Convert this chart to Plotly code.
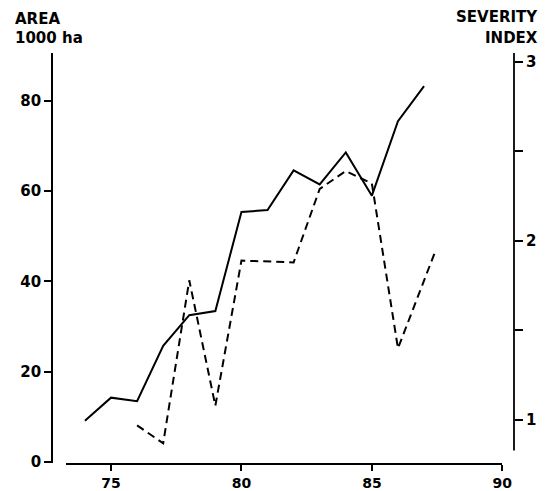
import plotly.graph_objects as go

# Area (1000 ha), left axis
area_years = [74, 75, 76, 77, 78, 79, 80, 81, 82, 83, 84, 85, 86, 87]
area_values = [9.1, 14.2, 13.4, 25.7, 32.5, 33.4, 55.4, 55.8, 64.6, 61.5, 68.6, 59.0, 75.5, 83.3]

# Severity index, right axis
sev_years = [76, 77, 78, 79, 80, 81, 82, 83, 84, 85, 86, 87.4]
sev_values = [0.97, 0.87, 1.78, 1.08, 1.89, 1.885, 1.88, 2.29, 2.39, 2.32, 1.40, 1.93]

x_ticks = [75, 80, 85, 90]
left_ticks = [0, 20, 40, 60, 80]
right_ticks = [1, 2, 3]

FONT = "DejaVu Sans"
tick_font = dict(family=FONT, size=15, color="black", weight="bold")
x_tick_font = dict(family=FONT, size=14, color="black", weight="bold")

fig = go.Figure()
fig.add_trace(go.Scatter(x=area_years, y=area_values, mode="lines",
                         line=dict(color="black", width=2), yaxis="y", showlegend=False))
fig.add_trace(go.Scatter(x=sev_years, y=sev_values, mode="lines",
                         line=dict(color="black", width=2, dash="8px,5px"), yaxis="y2", showlegend=False))

# page body has an 8px margin, so the figure is drawn 8px smaller
fig.update_layout(
    width=539, height=483,
    margin=dict(l=44, r=33, t=45, b=28, autoexpand=False),
    paper_bgcolor="white", plot_bgcolor="white",
    xaxis=dict(domain=[0.0297, 0.9747], range=[73.264, 90], anchor="y", automargin=False,
               showline=True, linecolor="black", linewidth=1.8,
               ticks="outside", ticklen=6, tickwidth=1.8, tickcolor="black",
               tickvals=x_ticks, ticktext=[str(v) for v in x_ticks],
               tickfont=x_tick_font, showgrid=False, zeroline=False),
    yaxis=dict(range=[-0.29, 90.64], anchor="free", position=0, automargin=False,
               showline=True, linecolor="black", linewidth=1.8,
               ticks="outside", ticklen=7, tickwidth=1.8, tickcolor="black",
               tickvals=left_ticks, ticktext=[str(v) for v in left_ticks],
               tickfont=tick_font, showgrid=False, zeroline=False),
    yaxis2=dict(range=[0.76, 3.049], overlaying="y", side="right", anchor="free", position=1,
                automargin=False, showline=False,
                ticks="outside", ticklen=8, tickwidth=1.8, tickcolor="black",
                tickvals=right_ticks, ticktext=[str(v) for v in right_ticks],
                minor=dict(tickvals=[1.5, 2.5], ticks="outside", ticklen=8, tickwidth=1.8, tickcolor="black"),
                tickfont=tick_font, showgrid=False, zeroline=False),
    shapes=[dict(type="line", xref="paper", yref="y2", x0=1, x1=1, y0=0.83, y1=3.049,
                 line=dict(color="black", width=1.8))],
)

ann_font = dict(family=FONT, size=15, color="black", weight="bold")
for text, x, y, anchor in [("AREA", -0.0844, 1.083, "left"),
                           ("1000 ha", -0.0844, 1.0366, "left"),
                           ("SEVERITY", 1.0563, 1.0866, "right"),
                           ("INDEX", 1.0563, 1.0366, "right")]:
    fig.add_annotation(text=text, x=x, y=y, xref="paper", yref="paper",
                       xanchor=anchor, yanchor="middle", showarrow=False, font=ann_font)

fig.write_html("out.html")
